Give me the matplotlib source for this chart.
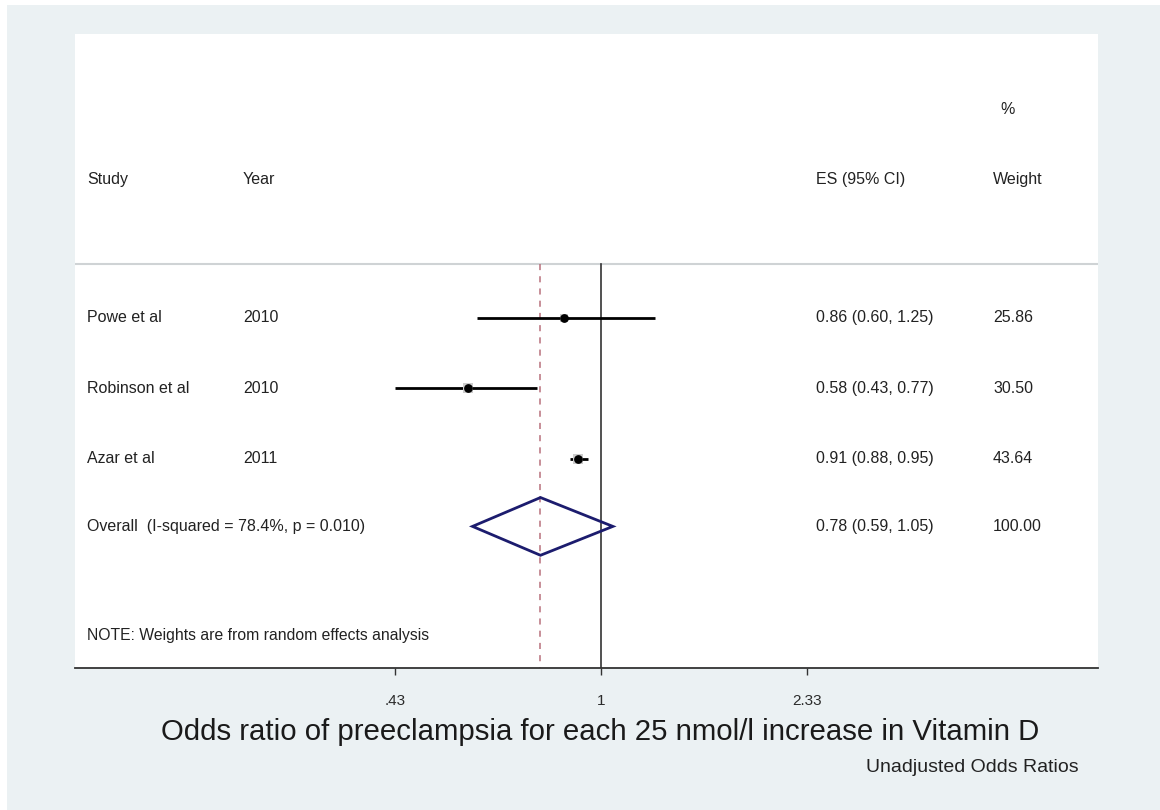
import numpy as np
import matplotlib.pyplot as plt
from matplotlib.patches import Polygon, Rectangle

# Study-level data
studies = ["Powe et al", "Robinson et al", "Azar et al"]
years = ["2010", "2010", "2011"]
es = [0.86, 0.58, 0.91]
ci_low = [0.60, 0.43, 0.88]
ci_high = [1.25, 0.77, 0.95]
weights = [25.86, 30.50, 43.64]

# Pooled (random effects) estimate
overall_label = "Overall  (I-squared = 78.4%, p = 0.010)"
overall_es = 0.78
overall_low = 0.59
overall_high = 1.05
overall_weight = 100.00

xticks = [0.43, 1.0, 2.33]
xtick_labels = [".43", "1", "2.33"]

plt.rcParams['font.family'] = ['Liberation Sans', 'DejaVu Sans']

W, H = 1160, 810
fig = plt.figure(figsize=(W / 100, H / 100), dpi=100)
fig.patch.set_facecolor('white')

# light panel behind the graph region
bg = Rectangle((7 / W, 0), 1 - 7 / W, 1 - 5 / H, transform=fig.transFigure,
               facecolor='#ebf1f3', edgecolor='none', zorder=-10)
fig.patches.append(bg)

left_px, right_px, top_px, bot_px = 75, 1098, 34, 668
ax = fig.add_axes([left_px / W, 1 - bot_px / H,
                   (right_px - left_px) / W, (bot_px - top_px) / H])
ax.set_facecolor('white')
ax.set_xscale('log')
ax.set_xlim(0.1153, 7.70)
ax.set_ylim(4.97, -4.03)

for s in ['top', 'right', 'left']:
    ax.spines[s].set_visible(False)
ax.spines['bottom'].set_color('#333333')
ax.spines['bottom'].set_linewidth(1.3)
ax.set_yticks([])
ax.set_xticks(xticks)
ax.set_xticklabels(xtick_labels, fontsize=11, color='#2b2b2b')
ax.minorticks_off()
ax.tick_params(axis='x', which='major', length=5, width=1, color='#333333', pad=14)

txt_color = '#222222'
fs = 11.5
trans = ax.get_yaxis_transform()  # x in axes fraction, y in data

def xfrac(px):
    return (px - left_px) / (right_px - left_px)

# column positions
col_study, col_year, col_es, col_w = xfrac(87), xfrac(243), xfrac(816), xfrac(993)

# header
ax.text(xfrac(1000), -2.96, "%", transform=trans, fontsize=fs, color=txt_color, va='center')
header_y = -1.96
ax.text(col_study, header_y, "Study", transform=trans, fontsize=fs, color=txt_color, va='center')
ax.text(col_year, header_y, "Year", transform=trans, fontsize=fs, color=txt_color, va='center')
ax.text(col_es, header_y, "ES (95% CI)", transform=trans, fontsize=fs, color=txt_color, va='center')
ax.text(col_w, header_y, "Weight", transform=trans, fontsize=fs, color=txt_color, va='center')

sep_y = -0.77
ax.axhline(sep_y, color='#cfd3d5', lw=1.5, zorder=1)

# reference lines
ax.plot([1, 1], [sep_y, 4.97], color='#333333', lw=1.2, zorder=2)
ax.plot([overall_es, overall_es], [sep_y, 4.97], color='#b8707c', lw=1.1,
        ls=(0, (4, 4)), zorder=2)

rows = np.arange(len(studies))
for i, y in enumerate(rows):
    ax.plot([ci_low[i], ci_high[i]], [y, y], color='black', lw=2, zorder=3,
            solid_capstyle='butt')
    ax.scatter([es[i]], [y], s=weights[i] * 1.4, marker='s', color='#cccccc',
               zorder=3.5, linewidths=0)
    ax.scatter([es[i]], [y], s=28, marker='o', color='black', zorder=4)
    ax.text(col_study, y, studies[i], transform=trans, fontsize=fs, color=txt_color, va='center')
    ax.text(col_year, y, years[i], transform=trans, fontsize=fs, color=txt_color, va='center')
    ax.text(col_es, y, f"{es[i]:.2f} ({ci_low[i]:.2f}, {ci_high[i]:.2f})",
            transform=trans, fontsize=fs, color=txt_color, va='center')
    ax.text(col_w, y, f"{weights[i]:.2f}", transform=trans, fontsize=fs,
            color=txt_color, va='center')

# overall diamond
yo = len(studies) - 0.04
dh = 0.41
diamond = Polygon([[overall_low, yo], [overall_es, yo - dh],
                   [overall_high, yo], [overall_es, yo + dh]],
                  closed=True, fill=False, edgecolor='#1c1c6e', lw=2, zorder=5)
ax.add_patch(diamond)
ax.text(col_study, yo, overall_label, transform=trans, fontsize=fs, color=txt_color, va='center')
ax.text(col_es, yo, f"{overall_es:.2f} ({overall_low:.2f}, {overall_high:.2f})",
        transform=trans, fontsize=fs, color=txt_color, va='center')
ax.text(col_w, yo, f"{overall_weight:.2f}", transform=trans, fontsize=fs,
        color=txt_color, va='center')

ax.text(col_study, 4.51, "NOTE: Weights are from random effects analysis",
        transform=trans, fontsize=11.3, color=txt_color, va='center')

fig.text(600 / W, 1 - 732 / H,
         "Odds ratio of preeclampsia for each 25 nmol/l increase in Vitamin D",
         fontsize=21.2, color='#1a1a1a', ha='center', va='center')
fig.text(1079 / W, 1 - 767 / H, "Unadjusted Odds Ratios", fontsize=14,
         color='#222222', ha='right', va='center')

fig.savefig('out.png', dpi=100, facecolor=fig.get_facecolor())
